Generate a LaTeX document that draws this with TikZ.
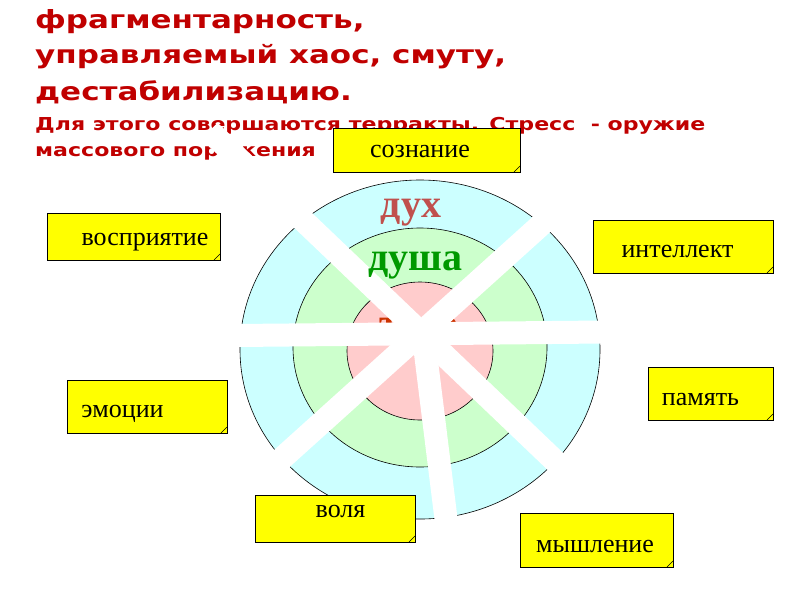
\documentclass[tikz,border=0pt]{standalone}
\usepackage{fontspec}
\usepackage{tikz}
\usepackage{xcolor}
\usetikzlibrary{calc,positioning}
\setmainfont{Liberation Serif}
\newfontfamily\titlefont{DejaVu Sans Bold}[FakeStretch=1.24]
\definecolor{TitleRed}{HTML}{C00000}
\definecolor{NoteYellow}{HTML}{FFFF00}
\definecolor{RingBlue}{HTML}{CCFFFF}
\definecolor{RingGreen}{HTML}{CCFFCC}
\definecolor{RingRed}{HTML}{FFCCCC}
\definecolor{DuhRed}{HTML}{C0504D}
\definecolor{DushaGreen}{HTML}{009900}
\definecolor{TeloRed}{HTML}{CC3300}
\tikzset{
  wtitle/.style={anchor=base west, inner sep=0pt, text=TitleRed, font=\titlefont\fontsize{25}{25}\selectfont},
  wsub/.style={anchor=base west, inner sep=0pt, text=TitleRed, font=\titlefont\fontsize{17.8}{18}\selectfont},
  wring/.style={draw=black, line width=0.6pt},
  wlevel/.style={anchor=base, inner sep=0pt, font=\bfseries\fontsize{40}{40}\selectfont},
  wbar/.style={draw=white, line width=23pt},
  wnote/.style={draw=black, fill=NoteYellow, line width=0.6pt, inner sep=0pt,
    path picture={\draw[black, line width=0.4pt] ([xshift=-6pt]path picture bounding box.south east) -- ([yshift=6pt]path picture bounding box.south east);}},
  wnotetext/.style={anchor=base, inner sep=0pt, font=\fontsize{26}{26}\selectfont}
}
\begin{document}
\begin{tikzpicture}[x=1pt,y=-1pt]
  \useasboundingbox (0,0) rectangle (800,600);
  \node[wtitle] (t1) at (35,28) {фрагментарность,};
  \node[wtitle] (t2) at (35,63) {управляемый хаос, смуту,};
  \node[wtitle] (t3) at (35,100) {дестабилизацию.};
  \node[wsub] (t4) at (35,130) {Для этого совершаются терракты. Стресс~ - оружие};
  \node[wsub] (t5) at (35,156) {массового поражения};
  \draw[wring, fill=RingBlue] (420,349.5) ellipse [x radius=180, y radius=169.5];
  \draw[wring, fill=RingGreen] (420,347.5) ellipse [x radius=127, y radius=119.5];
  \draw[wring, fill=RingRed] (420,351) ellipse [x radius=73, y radius=69];
  \node[wlevel, text=TeloRed] (telo) at (419,336) {тело};
  \coordinate (hub) at (421,333);
  \coordinate (hl) at (236,335.5);
  \coordinate (hr) at (604,332);
  \coordinate (ul) at (209.6,131);
  \coordinate (dr) at (562,467.7);
  \coordinate (ur) at (548.8,217.8);
  \coordinate (dl) at (272.4,467);
  \coordinate (vt) at (423,333);
  \coordinate (dn) at (448,535);
  \foreach \a/\b in {hl/hr,ul/dr,ur/dl,vt/dn} {
    \draw[wbar] (\a) -- (\b);
  }
  \node[wlevel, text=DuhRed] (duh) at (411,217) {дух};
  \node[wlevel, text=DushaGreen] (dusha) at (415,270) {душа};
  \node[wnote, minimum width=187, minimum height=44] (soznanie) at (426.5,150) {};
  \node[wnotetext] (soznanie-t) at (420,157) {сознание};
  \node[wnote, minimum width=173, minimum height=47] (vospr) at (133.5,236.5) {};
  \node[wnotetext] (vospr-t) at (145,245) {восприятие};
  \node[wnote, minimum width=160, minimum height=53] (emocii) at (147,406.5) {};
  \node[wnotetext] (emocii-t) at (122.5,417) {эмоции};
  \node[wnote, minimum width=180, minimum height=53] (intel) at (683,246.5) {};
  \node[wnotetext] (intel-t) at (677.5,257) {интеллект};
  \node[wnote, minimum width=125, minimum height=53] (pamyat) at (710.5,393.5) {};
  \node[wnotetext] (pamyat-t) at (700.5,405) {память};
  \node[wnote, minimum width=160, minimum height=47] (volya) at (335,518.5) {};
  \node[wnotetext] (volya-t) at (340.5,517) {воля};
  \node[wnote, minimum width=153, minimum height=54] (mysl) at (596.5,540) {};
  \node[wnotetext] (mysl-t) at (595,552) {мышление};
\end{tikzpicture}
\end{document}
